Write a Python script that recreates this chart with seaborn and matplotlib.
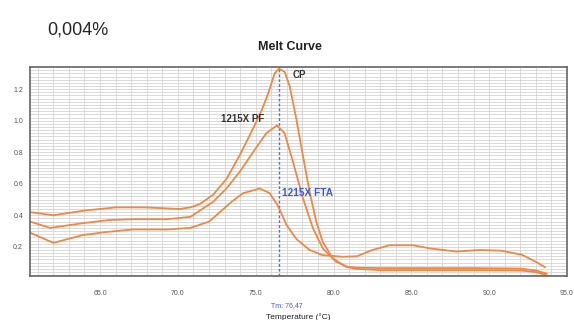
import matplotlib
matplotlib.use("Agg")
import matplotlib.pyplot as plt
from matplotlib.ticker import MultipleLocator
import seaborn as sns
import pandas as pd

# Datos (temperatura en °C, derivada de fluorescencia)
temp_cp = [60.5, 62.0, 64.0, 66.0, 67.9, 70.1, 70.8, 71.4, 72.26, 73.12, 73.97,
           74.83, 75.36, 75.79, 76.22, 76.5, 76.86, 77.18, 77.61, 78.03, 78.46,
           78.89, 79.31, 79.96, 80.81, 81.5, 83.0, 86.0, 89.0, 92.0, 93.0, 93.7]
cp = [0.42, 0.40, 0.43, 0.45, 0.45, 0.44, 0.45, 0.47, 0.53, 0.63, 0.78,
      0.95, 1.06, 1.17, 1.30, 1.33, 1.31, 1.22, 1.01, 0.78, 0.55,
      0.36, 0.23, 0.126, 0.073, 0.06, 0.052, 0.052, 0.052, 0.05, 0.04, 0.02]

temp_pf = [60.5, 61.8, 63.9, 65.6, 67.1, 69.3, 70.8, 71.41, 72.26, 73.12, 73.97,
           74.83, 75.68, 76.37, 76.86, 77.39, 78.03, 78.67, 79.31, 80.17, 80.92,
           81.5, 83.0, 86.0, 89.0, 92.0, 93.0, 93.7]
pf = [0.36, 0.32, 0.35, 0.37, 0.375, 0.375, 0.39, 0.43, 0.485, 0.57, 0.675,
      0.80, 0.92, 0.97, 0.92, 0.74, 0.51, 0.32, 0.19, 0.105, 0.073,
      0.068, 0.065, 0.065, 0.065, 0.062, 0.05, 0.03]

temp_fta = [60.5, 62.0, 63.9, 65.5, 67.1, 69.3, 70.8, 72.0, 72.7, 73.5, 74.19,
            75.26, 75.9, 76.43, 76.97, 77.61, 78.46, 79.31, 80.6, 81.5, 82.5,
            83.6, 85.1, 86.2, 87.9, 89.4, 90.8, 92.1, 93.0, 93.6]
fta = [0.29, 0.225, 0.275, 0.295, 0.31, 0.31, 0.32, 0.36, 0.42, 0.49, 0.54,
       0.57, 0.54, 0.46, 0.34, 0.25, 0.18, 0.147, 0.137, 0.14, 0.18,
       0.21, 0.21, 0.19, 0.17, 0.18, 0.175, 0.15, 0.105, 0.07]

tm = 76.47
x_ticks = [65.0, 70.0, 75.0, 80.0, 85.0, 90.0, 95.0]
y_ticks = [0.2, 0.4, 0.6, 0.8, 1.0, 1.2]

naranja = "#ee8844"
azul = "#3b5bd6"

sns.set_style("white")
plt.rcParams['font.family'] = ['Liberation Sans', 'DejaVu Sans']

fig = plt.figure(figsize=(5.74, 3.2), dpi=100)
ax = fig.add_axes([0.0523, 0.1375, 0.9355, 0.653])

for t, v in [(temp_cp, cp), (temp_pf, pf), (temp_fta, fta)]:
    df = pd.DataFrame({"temp": t, "val": v})
    sns.lineplot(data=df, x="temp", y="val", ax=ax, color=naranja, lw=1.3,
                 sort=False, estimator=None)

ax.axvline(tm, color="#4a6cf0", ls=(0, (2, 1.5)), lw=1.0, zorder=1.5)

ax.set_xlim(60.5, 95.0)
ax.set_ylim(0.015, 1.34)
ax.set_xticks(x_ticks)
ax.set_xticklabels([f"{t:.1f}" for t in x_ticks])
ax.set_yticks(y_ticks)
ax.set_yticklabels([f"{t:.1f}" for t in y_ticks])
ax.xaxis.set_minor_locator(MultipleLocator(1))
ax.yaxis.set_minor_locator(MultipleLocator(0.02))
ax.grid(True, which="both", color="#d4d4d4", lw=0.6)
ax.tick_params(axis="both", which="major", labelsize=5, colors="#555555",
               length=2, width=0.5, pad=8)
ax.tick_params(axis="both", which="minor", length=2, width=0.5, color="#888888")
ax.tick_params(axis="y", pad=3)
for s in ax.spines.values():
    s.set_color("#666666")
    s.set_linewidth(1.2)
ax.set_xlabel("")
ax.set_ylabel("")

# Textos
fig.text(47 / 574, 1 - 30 / 320, "0,004%", fontsize=13, va="center", ha="left")
fig.text(290 / 574, 1 - 47 / 320, "Melt Curve", fontsize=9, fontweight="bold",
         va="center", ha="center", color="#222222")
ax.text(77.4, 1.27, "CP", fontsize=7, fontweight="bold", color="#333333")
ax.text(72.8, 0.99, "1215X PF", fontsize=7, fontweight="bold", color="#333333")
ax.text(76.7, 0.52, "1215X FTA", fontsize=7.3, fontweight="bold", color=azul)
fig.text(287 / 574, 1 - 306 / 320, "Tm: 76,47", fontsize=5, color=azul,
         ha="center", va="center")
fig.text(298 / 574, 1 - 317 / 320, "Temperature (°C)", fontsize=6, color="#222222",
         ha="center", va="center")

fig.savefig("out.png", dpi=100)
